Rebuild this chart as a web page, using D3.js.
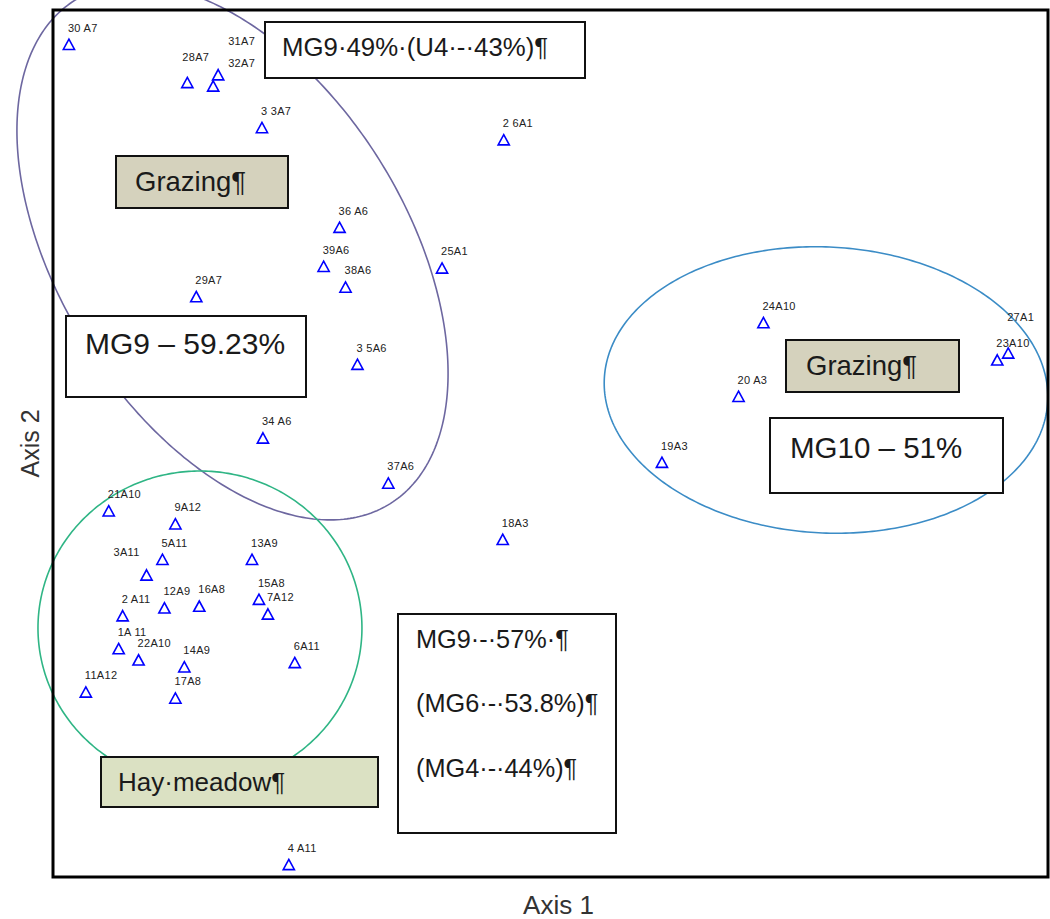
<!DOCTYPE html>
<html>
<head>
<meta charset="utf-8">
<script src="https://cdn.jsdelivr.net/npm/d3@7"></script>
<style>
  html, body { margin: 0; padding: 0; background: #fff; }
  svg { display: block; }
</style>
</head>
<body>
<svg id="chart" width="1050" height="919"></svg>
<script>
// Sample sites and their ordination scores
const sites = [
  "30 A7", "28A7", "31A7", "32A7", "3 3A7", "2 6A1", "36 A6", "39A6", "38A6", "25A1",
  "29A7", "3 5A6", "34 A6", "37A6", "24A10", "27A1", "23A10", "20 A3", "19A3", "18A3",
  "21A10", "9A12", "5A11", "3A11", "13A9", "16A8", "12A9", "2 A11", "15A8", "7A12",
  "1A 11", "22A10", "14A9", "17A8", "11A12", "6A11", "4 A11"
];
const axis1Scores = [
  1.6, 13.5, 16.6, 16.1, 21.0, 45.3, 28.8, 27.2, 29.4, 39.1,
  14.4, 30.6, 21.1, 33.7, 71.4, 96.0, 94.9, 68.9, 61.2, 45.2,
  5.6, 12.3, 11.0, 9.4, 20.0, 14.7, 11.2, 7.0, 20.7, 21.6,
  6.6, 8.6, 13.2, 12.3, 3.3, 24.3, 23.7
];
const axis2Scores = [
  96.0, 91.6, 92.5, 91.2, 86.4, 85.0, 74.9, 70.4, 68.0, 70.2,
  66.9, 59.1, 50.6, 45.4, 63.9, 60.4, 59.6, 55.4, 47.8, 38.9,
  42.2, 40.7, 36.6, 34.8, 36.6, 31.2, 31.0, 30.1, 32.0, 30.3,
  26.3, 25.0, 24.2, 20.6, 21.3, 24.7, 1.4
];

// Group envelopes: centre plus two conjugate half-axes, in score units
const envelopeNames   = ["MG9 grazing", "MG9 hay meadow", "MG10 grazing"];
const envelopeCentres = [[18.04, 72.09], [14.77, 28.72], [77.69, 56.17]];
const envelopeAxisA   = [[15.86, -29.02], [16.28, 0], [22.28, -1.34]];
const envelopeAxisB   = [[-14.76, -10.62], [0, 18.11], [-0.75, -16.47]];
const envelopeColours = ["#6d67a0", "#2fb585", "#3b8cc6"];

// Boxed notes
const notes = [
  { lines: ["MG9\u00b749%\u00b7(U4\u00b7-\u00b743%)\u00b6"], x: 265, y: 22, w: 320, h: 56, fill: "#ffffff", size: 25.8, tx: 282, ty: [56] },
  { lines: ["Grazing\u00b6"], x: 116, y: 156, w: 172, h: 52, fill: "#d5d2bd", size: 27.5, tx: 135, ty: [191] },
  { lines: ["MG9 \u2013 59.23%"], x: 66, y: 316, w: 240, h: 81, fill: "#ffffff", size: 30, tx: 85, ty: [354] },
  { lines: ["Grazing\u00b6"], x: 786, y: 340, w: 173, h: 52, fill: "#d5d2bd", size: 27.5, tx: 806, ty: [375] },
  { lines: ["MG10 \u2013 51%"], x: 770, y: 418, w: 233, h: 75, fill: "#ffffff", size: 29.5, tx: 790, ty: [458] },
  { lines: ["MG9\u00b7-\u00b757%\u00b7\u00b6", "(MG6\u00b7-\u00b753.8%)\u00b6", "(MG4\u00b7-\u00b744%)\u00b6"], x: 398, y: 614, w: 218, h: 219, fill: "#ffffff", size: 25.3, tx: 416, ty: [648, 712, 777] },
  { lines: ["Hay\u00b7meadow\u00b6"], x: 101, y: 757, w: 277, h: 50, fill: "#dbe1c3", size: 26, tx: 118, ty: [791] }
];

// Label placement: most labels sit just above their marker
const labelOffset = { dx: -1, dy: -13 };
const labelNudge = {
  "28A7": { dx: -5, dy: -22 },
  "31A7": { dx: 10, dy: -30 },
  "32A7": { dx: 15, dy: -19 },
  "27A1": { dx: -1, dy: -32 },
  "3A11": { dx: -33, dy: -19 }
};

const svg = d3.select("#chart");
const frame = { left: 53, top: 10, right: 1048, bottom: 877 };

const x = d3.scaleLinear().domain([0, 100]).range([frame.left, frame.right]);
const y = d3.scaleLinear().domain([0, 100]).range([frame.bottom, frame.top]);

// Envelopes
const ellipseLine = d3.line().x(d => x(d[0])).y(d => y(d[1])).curve(d3.curveLinearClosed);
envelopeNames.forEach((name, i) => {
  const [cx, cy] = envelopeCentres[i];
  const [ax, ay] = envelopeAxisA[i];
  const [bx, by] = envelopeAxisB[i];
  const pts = d3.range(0, 360, 1).map(deg => {
    const t = deg * Math.PI / 180;
    return [cx + Math.cos(t) * ax + Math.sin(t) * bx, cy + Math.cos(t) * ay + Math.sin(t) * by];
  });
  svg.append("path")
    .attr("class", "envelope")
    .attr("d", ellipseLine(pts))
    .attr("fill", "none")
    .attr("stroke", envelopeColours[i])
    .attr("stroke-width", 1.6);
});

// Site markers
const points = sites.map((s, i) => ({ name: s, a1: axis1Scores[i], a2: axis2Scores[i] }));
const tri = "M0,-5.5L5.6,4.8L-5.6,4.8Z";
const g = svg.append("g").attr("class", "sites");
g.selectAll("path")
  .data(points)
  .join("path")
  .attr("d", tri)
  .attr("transform", d => `translate(${x(d.a1)},${y(d.a2)})`)
  .attr("fill", "none")
  .attr("stroke", "#0000ff")
  .attr("stroke-width", 1.6);

g.selectAll("text")
  .data(points)
  .join("text")
  .attr("x", d => x(d.a1) + (labelNudge[d.name] || labelOffset).dx)
  .attr("y", d => y(d.a2) + (labelNudge[d.name] || labelOffset).dy)
  .attr("font-family", "Liberation Sans, Arial, sans-serif")
  .attr("font-size", 11)
  .attr("letter-spacing", 0.3)
  .attr("fill", "#222")
  .text(d => d.name);

// Notes
notes.forEach(n => {
  svg.append("rect")
    .attr("x", n.x).attr("y", n.y).attr("width", n.w).attr("height", n.h)
    .attr("fill", n.fill)
    .attr("stroke", "#111")
    .attr("stroke-width", 2);
  n.lines.forEach((line, j) => {
    svg.append("text")
      .attr("x", n.tx).attr("y", n.ty[j])
      .attr("font-family", "Liberation Sans, Arial, sans-serif")
      .attr("font-size", n.size)
      .attr("fill", "#1a1a1a")
      .text(line);
  });
});

// Plot frame
svg.append("rect")
  .attr("x", frame.left).attr("y", frame.top)
  .attr("width", frame.right - frame.left).attr("height", frame.bottom - frame.top)
  .attr("fill", "none")
  .attr("stroke", "#000")
  .attr("stroke-width", 3);

// Axis titles
svg.append("text")
  .attr("x", (frame.left + frame.right) / 2 + 8)
  .attr("y", 914)
  .attr("text-anchor", "middle")
  .attr("font-family", "Liberation Sans, Arial, sans-serif")
  .attr("font-size", 26)
  .attr("fill", "#333")
  .text("Axis 1");

svg.append("text")
  .attr("transform", `translate(39,${(frame.top + frame.bottom) / 2})rotate(-90)`)
  .attr("text-anchor", "middle")
  .attr("font-family", "Liberation Sans, Arial, sans-serif")
  .attr("font-size", 25)
  .attr("fill", "#333")
  .text("Axis 2");
</script>
</body>
</html>
